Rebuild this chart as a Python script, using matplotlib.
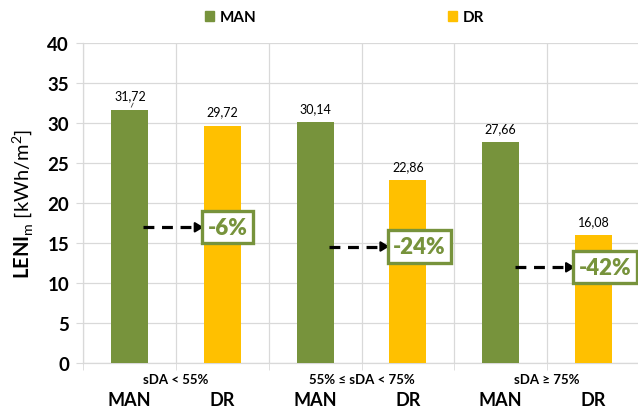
import numpy as np
import matplotlib
matplotlib.use('Agg')
import matplotlib.pyplot as plt
from matplotlib.patches import Patch

plt.rcParams['font.family'] = ['Lato', 'DejaVu Sans']
plt.rcParams['mathtext.fontset'] = 'custom'
plt.rcParams['mathtext.rm'] = 'Lato'
plt.rcParams['mathtext.bf'] = 'Lato:bold'

# LENI per scenario, MAN / DR pairs
bar_names = ['MAN', 'DR', 'MAN', 'DR', 'MAN', 'DR']
values = [31.72, 29.72, 30.14, 22.86, 27.66, 16.08]
groups = ['sDA < 55%', '55% ≤ sDA < 75%', 'sDA ≥ 75%']
savings = ['-6%', '-24%', '-42%']
arrow_levels = [17.0, 14.6, 12.0]

GREEN = '#77933C'
YELLOW = '#FFC000'
GRID = '#d9d9d9'

fig = plt.figure(figsize=(6.38, 4.10), dpi=100)
W, H = 638.0, 410.0
ax = fig.add_axes([83 / W, (H - 364.3) / H, (640 - 83) / W, (364.3 - 44.3) / H])

x = np.arange(len(values))
colors = [GREEN if n == 'MAN' else YELLOW for n in bar_names]
ax.bar(x, values, width=0.4, color=colors, zorder=3)

ax.set_xlim(-0.5, len(values) - 0.5)
ax.set_ylim(0, 40)
ax.set_yticks(np.arange(0, 41, 5))
ax.set_yticklabels([str(v) for v in range(0, 41, 5)], fontsize=13.5, fontweight='bold')
ax.set_xticks([])
ax.set_xticks(np.arange(-0.5, len(values)), minor=True)
ax.tick_params(axis='y', length=5, color=GRID, pad=5)
ax.tick_params(axis='x', which='minor', length=5, color=GRID, labelbottom=False)
ax.grid(True, axis='y', color=GRID, lw=0.9, zorder=0)
ax.grid(True, axis='x', which='minor', color=GRID, lw=0.9, zorder=0)
for s in ['top', 'right']:
    ax.spines[s].set_visible(False)
for s in ['left', 'bottom']:
    ax.spines[s].set_color(GRID)
    ax.spines[s].set_linewidth(0.9)

ax.set_ylabel(r'$\mathbf{LENI}_{\mathrm{m}}$ [kWh/m$^{2}$]', fontsize=14.5)
ax.yaxis.set_label_coords(-0.087, 0.5)

# value labels above the bars
for i, v in enumerate(values):
    lbl = f'{v:.2f}'.replace('.', ',')
    ax.annotate(lbl, (i, v), xytext=(1 if i == 0 else 0, 10), textcoords='offset points',
                ha='center', va='center', fontsize=9)
ax.plot([0.02, 0.04], [values[0] + 0.3, values[0] + 0.8], color='#404040', lw=0.6, zorder=4)

# category labels under the axis
for i, n in enumerate(bar_names):
    ax.annotate(n, (i, 0), xycoords=('data', 'axes fraction'), xytext=(0, -26),
                textcoords='offset points', ha='center', va='center',
                fontsize=13, fontweight='bold', annotation_clip=False)
for g, name in enumerate(groups):
    ax.annotate(name, (2 * g + 0.5, 0), xycoords=('data', 'axes fraction'), xytext=(0, -11),
                textcoords='offset points', ha='center', va='center',
                fontsize=9.5, fontweight='bold', annotation_clip=False)

# dashed arrows from MAN to DR with the saving in a box
for g in range(3):
    x0 = 2 * g + 0.15
    x1 = 2 * g + 0.80
    yv = arrow_levels[g]
    ax.plot([x0, x1 - 0.06], [yv, yv], color='black', lw=2.3, ls=(0, (3.4, 2.4)), zorder=5,
            solid_capstyle='butt', dash_capstyle='butt')
    ax.annotate('', xy=(x1, yv), xytext=(x1 - 0.08, yv),
                arrowprops=dict(arrowstyle='-|>,head_length=0.5,head_width=0.3',
                                color='black', lw=1.5, shrinkA=0, shrinkB=0), zorder=5)
    ax.text(x1 + 0.04, yv, savings[g], ha='left', va='center', fontsize=16, fontweight='heavy',
            color=GREEN, zorder=6, clip_on=False,
            bbox=dict(boxstyle='square,pad=0.25', facecolor='white', edgecolor=GREEN, lw=2.4))

handles = [Patch(color=GREEN, label='MAN'), Patch(color=YELLOW, label='DR')]
leg = fig.legend(handles=handles, loc='center', bbox_to_anchor=(0.54, 0.956), ncol=2,
                 frameon=False, handlelength=0.6, handleheight=0.6, handletextpad=0.4,
                 columnspacing=12.5, prop={'size': 11, 'weight': 'bold'})

fig.savefig('out.png', dpi=100)
